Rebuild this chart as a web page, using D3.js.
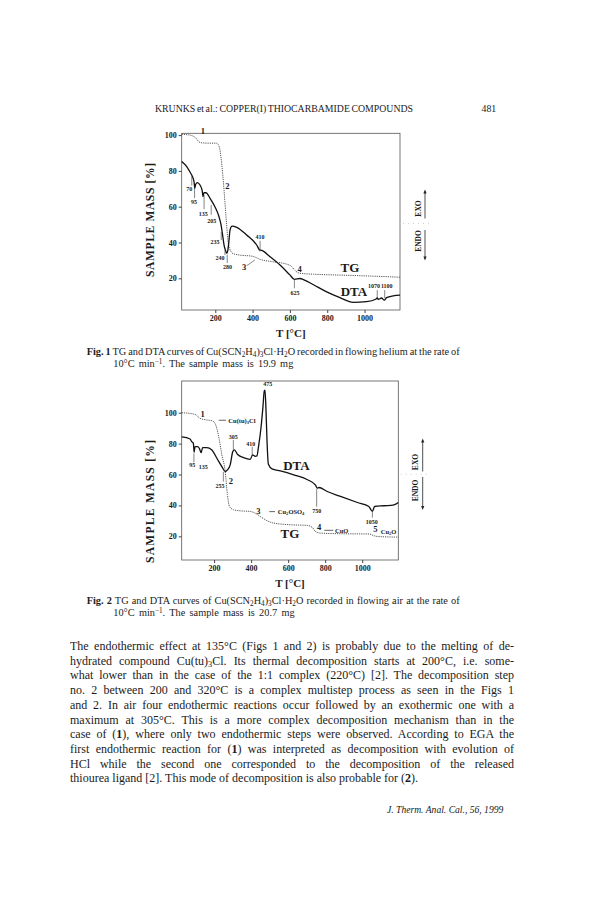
<!DOCTYPE html>
<html>
<head>
<meta charset="utf-8">
<script src="https://cdn.jsdelivr.net/npm/d3@7"></script>
<style>
  body { margin: 0; background: #fff; }
  svg { display: block; }
  text { font-family: "Liberation Serif", "DejaVu Serif", serif; fill: #1b1b1b; }
</style>
</head>
<body>
<div id="page"></div>
<script>
const width = 605;
const height = 907;

const tempTicks = [200, 400, 600, 800, 1000];
const massTicks = [20, 40, 60, 80, 100];

// Fig. 1 - flowing helium, [T in degC, value]
const tgHelium = [[20,100.4],[65,100],[92,98.7],[118,95.9],[154,95.5],[207,95.5],[222,93.2],
  [230,88],[240,78],[250,65],[260,51],[268,41],[278,36.3],[295,33.8],[330,33],[400,32.3],
  [440,30.6],[511,29.2],[583,27.9],[609,26.6],[627,24.4],[654,22.8],[726,22.3],[868,21.8],
  [1047,21.2],[1190,20.6]];
const dtaHelium = [[20,85.3],[47,82.4],[68,78.7],[76,77.2],[80,76.2],[87,73.4],[90,70.3],
  [95,72.5],[104,73.4],[118,72.1],[130,68.9],[134,65.6],[139,67.8],[150,67.8],[172,64.7],
  [198,60],[220,54.4],[231,49.8],[238,45.1],[247,38.6],[254,35.8],[262,34],[267,35.5],
  [272,39.5],[279,47],[290,49.2],[315,48.5],[368,44.2],[422,38.6],[438,35.8],[449,35.6],
  [493,32.1],[547,27.4],[600,21.9],[624,19.4],[654,19.9],[672,19.3],[726,16.4],[797,12.4],
  [868,9.2],[940,6.6],[1011,7],[1060,8.3],[1068,9.1],[1074,8.2],[1091,9],[1106,7.8],
  [1118,9.2],[1154,10.2],[1190,10.6]];
// [label, T, value]
const tgHeliumSteps = [["1",133,102.2],["2",265,71.6],["3",354,26.5],["4",652,25.2]];
// [label, labelT, labelValue, tickT, tickTop, tickBottom]
const dtaHeliumPeaks = [["70",61,69.7,74,77,71.8],["95",86,62.8,89,70.3,64.8],
  ["135",136,55.9,140,66.5,58.6],["205",181,52.2,178,61,55.5],["235",199,40.1,232,46,41.4],
  ["240",225,31.5,252,35.6,33],["280",265,26.5,264,33.2,28.5],["410",440,43.2,440,41,35],
  ["625",627,11.6,624,19,14.4],["1070",1051,15.7,1068,13.4,8.9],["1100",1119,15.7,1108,13.4,8.9]];
const curveNamesHelium = [["TG",922,25.8],["DTA",943,12.9]];

// Fig. 2 - flowing air
const tgAir = [[25,100],[97,98.9],[124,96.3],[160,95.3],[188,94.8],[205,93.1],[223,85.6],
  [242,72.7],[260,61.9],[272,46.9],[283,39.3],[305,37.2],[341,36.5],[395,36.1],[422,35],
  [449,32.9],[486,30.1],[521,28.6],[612,27.5],[702,27.1],[730,25.8],[747,23.2],[775,22.1],
  [883,21.7],[1040,21.5],[1063,20.4],[1085,19.9],[1195,19.5]];
const dtaAir = [[25,84.3],[70,83],[79,81.3],[88,80.2],[92,74.4],[97,78.1],[110,78.1],[120,77],
  [130,74.2],[138,77.4],[160,77.4],[188,75.9],[215,70.5],[242,65.1],[260,61.9],[272,63],
  [287,66.2],[301,74.8],[310,75.9],[326,73.1],[359,70.9],[395,69.8],[408,72.7],[422,71.8],
  [431,72],[440,78.1],[453,89.9],[464,103.9],[471,114],[475,114.6],[480,102.8],[486,81.3],
  [493,66.8],[513,63.6],[558,62.3],[630,59.8],[702,56.8],[748,53.1],[757,51.2],[766,51.6],
  [811,49],[883,45.8],[974,41.9],[1036,39.3],[1055,36.1],[1067,39.3],[1118,39.8],
  [1172,40.4],[1195,41.9]];
const tgAirSteps = [["1",138,99],["2",290,55.8],["3",439,36.4],["4",767,25.9],["5",1071,24.6]];
const dtaAirPeaks = [["475",490,118.6,null],["305",304,84.3,304,82.3,75.9],
  ["410",398,79.6,406,78,72.2],["95",82,66.2,91,73.7,67.9],["135",142,65,null],
  ["255",232,52.6,250,61.8,55.4],["750",754,36.4,754,50.6,39.2],["1050",1051,29.5,1055,36,32.1]];
// [formula parts, dashFromT, dashToT, textT, value]
const productsAir = [
  [[["Cu(tu)"],["3","sub"],["Cl"]],225,264,277,95.1],
  [[["Cu"],["2","sub"],["OSO"],["4","sub"]],498,529,544,36],
  [[["CuO"]],795,844,853,23.9],
  [[["Cu"],["2","sub"],["O"]],null,null,1100,23]];
const curveNamesAir = [["DTA",645,65.6],["TG",610,22]];

const paragraph = [
  [["The endothermic effect at 135°C (Figs 1 and 2) is probably due to the melting of de-"]],
  [["hydrated compound Cu(tu)"],["3","sub"],["Cl. Its thermal decomposition starts at 200°C, i.e. some-"]],
  [["what lower than in the case of the 1:1 complex (220°C) [2]. The decomposition step"]],
  [["no. 2 between 200 and 320°C is a complex multistep process as seen in the Figs 1"]],
  [["and 2. In air four endothermic reactions occur followed by an exothermic one with a"]],
  [["maximum at 305°C. This is a more complex decomposition mechanism than in the"]],
  [["case of ("],["1","b"],["), where only two endothermic steps were observed. According to EGA the"]],
  [["first endothermic reaction for ("],["1","b"],[") was interpreted as decomposition with evolution of"]],
  [["HCl while the second one corresponded to the decomposition of the released"]],
  [["thiourea ligand [2]. This mode of decomposition is also probable for ("],["2","b"],[")."]]
];

const svg = d3.select("#page").append("svg")
  .attr("width", width)
  .attr("height", height)
  .attr("viewBox", [0, 0, width, height]);

// writes text parts with bold / sub / superscript runs
function rich(sel, parts, fs) {
  let shift = 0;
  parts.forEach(([s, kind]) => {
    const t = sel.append("tspan").text(s);
    const target = kind === "sub" ? 0.2 * fs : kind === "sup" ? -0.32 * fs : 0;
    if (target !== shift) t.attr("dy", target - shift);
    shift = target;
    if (kind === "sub" || kind === "sup") t.attr("font-size", fs * 0.7);
    if (kind === "b") t.attr("font-weight", "bold");
  });
  return sel;
}

function textLine(x, y, parts, fs, len, opts = {}) {
  const t = svg.append("text")
    .attr("x", x).attr("y", y)
    .attr("font-size", fs);
  if (opts.italic) t.attr("font-style", "italic");
  rich(t, parts, fs);
  if (len) {
    // stretch the word gaps, not the letters
    const natural = t.node().getComputedTextLength();
    const gaps = (t.text().match(/ /g) || []).length;
    if (gaps) t.style("word-spacing", ((len - natural) / gaps) + "px");
  }
  return t;
}

function drawPanel(p) {
  const x = d3.scaleLinear().domain(p.xDomain).range([p.left, p.right]);
  const y = d3.scaleLinear().domain(p.yDomain).range([p.bottom, p.top]);
  const g = svg.append("g");

  g.append("rect")
    .attr("x", p.left).attr("y", p.top)
    .attr("width", p.right - p.left).attr("height", p.bottom - p.top)
    .attr("fill", "none").attr("stroke", "#555").attr("stroke-width", 0.8);

  const xa = g.append("g")
    .attr("transform", `translate(0,${p.bottom})`)
    .call(d3.axisBottom(x).tickValues(tempTicks).tickSize(3).tickPadding(2).tickFormat(d3.format("d")));
  const ya = g.append("g")
    .attr("transform", `translate(${p.left},0)`)
    .call(d3.axisLeft(y).tickValues(massTicks).tickSize(3).tickPadding(2).tickFormat(d3.format("d")));
  [xa, ya].forEach(a => {
    a.select(".domain").remove();
    a.attr("font-family", null);
    a.selectAll("line").attr("stroke", "#444");
    a.selectAll("text").attr("font-size", 8).attr("font-weight", "bold");
  });

  const line = d3.line().x(d => x(d[0])).y(d => y(d[1])).curve(d3.curveMonotoneX);

  g.append("path").datum(p.tg).attr("d", line)
    .attr("fill", "none").attr("stroke", "#555").attr("stroke-width", 1)
    .attr("stroke-dasharray", "1.2,1");
  g.append("path").datum(p.dta).attr("d", line)
    .attr("fill", "none").attr("stroke", "#111").attr("stroke-width", 1.3);

  p.peaks.forEach(([txt, lt, lv, tt, t1, t2]) => {
    if (tt != null) {
      g.append("line")
        .attr("x1", x(tt)).attr("x2", x(tt))
        .attr("y1", y(t1)).attr("y2", y(t2))
        .attr("stroke", "#333").attr("stroke-width", 0.6);
    }
    g.append("text").attr("x", x(lt)).attr("y", y(lv)).attr("dy", "0.35em")
      .attr("text-anchor", "middle").attr("font-size", 6).attr("font-weight", "bold")
      .text(txt);
  });

  p.steps.forEach(([txt, t, v]) => {
    g.append("text").attr("x", x(t)).attr("y", y(v)).attr("dy", "0.35em")
      .attr("text-anchor", "middle").attr("font-size", 8.5).attr("font-weight", "bold")
      .text(txt);
  });

  (p.products || []).forEach(([parts, d1, d2, tt, v]) => {
    if (d1 != null) {
      g.append("line")
        .attr("x1", x(d1)).attr("x2", x(d2))
        .attr("y1", y(v)).attr("y2", y(v))
        .attr("stroke", "#222").attr("stroke-width", 0.7);
    }
    const t = g.append("text").attr("x", x(tt)).attr("y", y(v)).attr("dy", "0.35em")
      .attr("font-size", 6.5).attr("font-weight", "bold");
    rich(t, parts, 6.5);
  });

  p.names.forEach(([txt, t, v]) => {
    g.append("text").attr("x", x(t)).attr("y", y(v)).attr("dy", "0.35em")
      .attr("text-anchor", "middle").attr("font-size", 13).attr("font-weight", "bold")
      .text(txt);
  });

  (p.leaders || []).forEach(pts => {
    g.append("path").datum(pts).attr("d", d3.line().x(d => x(d[0])).y(d => y(d[1])).curve(d3.curveBasis))
      .attr("fill", "none").attr("stroke", "#333").attr("stroke-width", 0.6);
  });

  // y title
  g.append("text")
    .attr("transform", `translate(${p.titleX},${p.titleY}) rotate(-90)`)
    .attr("text-anchor", "middle").attr("dy", "0.35em")
    .attr("font-size", 11.5).attr("font-weight", "bold")
    .attr("textLength", p.titleLen).attr("lengthAdjust", "spacing")
    .text("SAMPLE MASS  [%]");

  // x title
  g.append("text")
    .attr("x", (p.left + p.right) / 2).attr("y", p.bottom + 23).attr("dy", "0.35em")
    .attr("text-anchor", "middle").attr("font-size", 11).attr("font-weight", "bold")
    .text("T [°C]");

  // EXO / ENDO marker
  const m = p.marker;
  g.append("line").attr("x1", m.x).attr("x2", m.x).attr("y1", m.top).attr("y2", m.exoEnd)
    .attr("stroke", "#222").attr("stroke-width", 0.8);
  g.append("line").attr("x1", m.x).attr("x2", m.x).attr("y1", m.endoStart).attr("y2", m.bottom)
    .attr("stroke", "#222").attr("stroke-width", 0.8);
  g.append("path").attr("d", `M${m.x},${m.top - 2}l-1.6,4h3.2z`).attr("fill", "#222");
  g.append("path").attr("d", `M${m.x},${m.bottom + 2}l-1.6,-4h3.2z`).attr("fill", "#222");
  g.append("line").attr("x1", m.x - 22).attr("x2", m.x + 8).attr("y1", m.mid).attr("y2", m.mid)
    .attr("stroke", "#bbb").attr("stroke-width", 0.7).attr("stroke-dasharray", "1,4");
  g.append("text").attr("transform", `translate(${m.x - 4.5},${m.exoY}) rotate(-90)`)
    .attr("text-anchor", "middle").attr("font-size", 7.5).attr("font-weight", "bold").text("EXO");
  g.append("text").attr("transform", `translate(${m.x - 4.5},${m.endoY}) rotate(-90)`)
    .attr("text-anchor", "middle").attr("font-size", 7.5).attr("font-weight", "bold").text("ENDO");
}

// running head
textLine(155, 111.5, [["KRUNKS et al.: COPPER(I) THIOCARBAMIDE COMPOUNDS"]], 9.8, 258);
textLine(481.5, 111.5, [["481"]], 9.8);

drawPanel({
  xDomain: [20, 1190], yDomain: [2.3, 101],
  left: 181.7, right: 400, top: 133.3, bottom: 310,
  tg: tgHelium, dta: dtaHelium,
  steps: tgHeliumSteps, peaks: dtaHeliumPeaks, names: curveNamesHelium,
  leaders: [[[368, 27], [390, 28.6], [412, 30.2]]],
  titleX: 149.5, titleY: 220, titleLen: 114,
  marker: { x: 425, top: 191.5, exoEnd: 218.5, endoStart: 230, bottom: 258.5, mid: 223.5, exoY: 208.5, endoY: 241 }
});

textLine(86.7, 355, [["Fig. 1", "b"], [" TG and DTA curves of Cu(SCN"], ["2", "sub"], ["H"], ["4", "sub"],
  [")"], ["3", "sub"], ["Cl·H"], ["2", "sub"], ["O recorded in flowing helium at the rate of"]], 10.3, 373);
textLine(113.3, 367, [["10°C min"], ["−1", "sup"], [". The sample mass is 19.9 mg"]], 10.3, 180);

drawPanel({
  xDomain: [25, 1195], yDomain: [4.7, 120.5],
  left: 181.7, right: 398.3, top: 381, bottom: 560,
  tg: tgAir, dta: dtaAir,
  steps: tgAirSteps, peaks: dtaAirPeaks, names: curveNamesAir, products: productsAir,
  titleX: 150, titleY: 501.5, titleLen: 123,
  marker: { x: 422.7, top: 440.5, exoEnd: 471.5, endoStart: 477, bottom: 508, mid: 474.3, exoY: 462, endoY: 490.5 }
});

textLine(86.7, 604.3, [["Fig. 2", "b"], [" TG and DTA curves of Cu(SCN"], ["2", "sub"], ["H"], ["4", "sub"],
  [")"], ["3", "sub"], ["Cl·H"], ["2", "sub"], ["O recorded in flowing air at the rate of"]], 10.3, 373);
textLine(113.3, 616.3, [["10°C  min"], ["−1", "sup"], [". The sample mass is 20.7 mg"]], 10.3, 183);

// body text, justified except the last line
paragraph.forEach((parts, i) => {
  const last = i === paragraph.length - 1;
  textLine(70, 650 + i * 14.7, parts, 12, last ? null : 444);
});

textLine(387, 813, [["J. Therm. Anal. Cal., 56, 1999"]], 9.6, null, { italic: true });
</script>
</body>
</html>
